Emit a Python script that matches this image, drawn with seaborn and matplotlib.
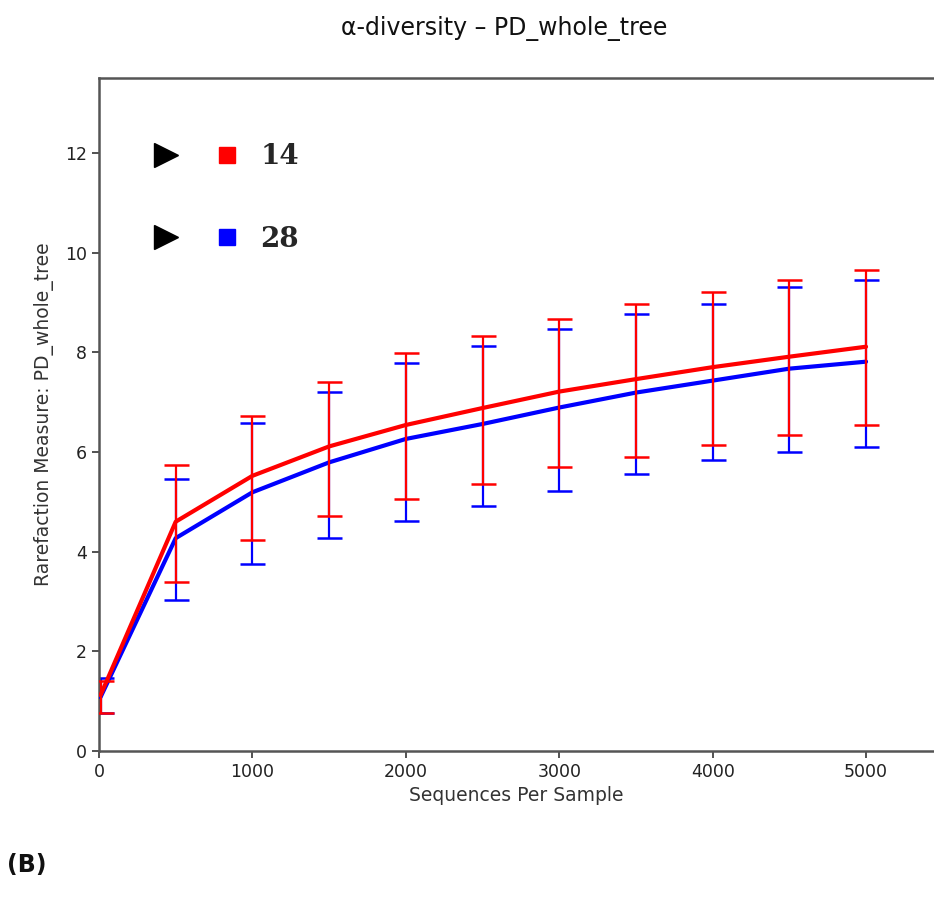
import numpy as np
import pandas as pd
import matplotlib
matplotlib.use("Agg")
import matplotlib.pyplot as plt
import seaborn as sns
from matplotlib.lines import Line2D
from matplotlib.legend_handler import HandlerTuple

# ---- data ----
seqs = [10, 500, 1000, 1500, 2000, 2500, 3000, 3500, 4000, 4500, 5000]
groups = ["14", "28"]
mean_14 = [1.12, 4.60, 5.52, 6.11, 6.54, 6.88, 7.21, 7.46, 7.70, 7.91, 8.11]
low_14 = [0.76, 3.40, 4.23, 4.72, 5.06, 5.35, 5.70, 5.89, 6.13, 6.33, 6.53]
high_14 = [1.41, 5.74, 6.72, 7.40, 7.98, 8.33, 8.67, 8.97, 9.20, 9.45, 9.64]
mean_28 = [1.08, 4.27, 5.19, 5.79, 6.26, 6.56, 6.89, 7.19, 7.43, 7.67, 7.81]
low_28 = [0.76, 3.02, 3.75, 4.28, 4.62, 4.92, 5.22, 5.55, 5.84, 5.99, 6.09]
high_28 = [1.46, 5.45, 6.58, 7.21, 7.79, 8.13, 8.47, 8.76, 8.96, 9.31, 9.45]
colors = {"14": "#ff0000", "28": "#0000ff"}

df = pd.DataFrame({
    "Sequences Per Sample": seqs * 2,
    "value": mean_14 + mean_28,
    "group": ["14"] * len(seqs) + ["28"] * len(seqs),
})

sns.set_style("ticks")
plt.rcParams["font.family"] = ["DejaVu Sans"]

fig = plt.figure(figsize=(9.34, 8.98), dpi=100)
ax = fig.add_axes([0.106, 0.1637, 0.894, 0.7494])

# blue first, red on top
for g, m, lo, hi, z in [("28", mean_28, low_28, high_28, 2), ("14", mean_14, low_14, high_14, 4)]:
    m = np.array(m); lo = np.array(lo); hi = np.array(hi)
    ax.errorbar(seqs, m, yerr=[m - lo, hi - m], fmt="none", ecolor=colors[g],
                elinewidth=1.6, capsize=9, capthick=1.8, zorder=z)

sns.lineplot(data=df[df.group == "28"], x="Sequences Per Sample", y="value",
             color=colors["28"], lw=3.0, ax=ax, zorder=3, legend=False)
sns.lineplot(data=df[df.group == "14"], x="Sequences Per Sample", y="value",
             color=colors["14"], lw=3.0, ax=ax, zorder=5, legend=False)

ax.set_xlim(0, 5443)
ax.set_ylim(0, 13.5)
ax.set_xticks([0, 1000, 2000, 3000, 4000, 5000])
ax.set_yticks([0, 2, 4, 6, 8, 10, 12])
ax.tick_params(axis="both", labelsize=12.5, colors="#333333", length=5, width=1.2,
               labelcolor="#222222")
ax.set_xlabel("Sequences Per Sample", fontsize=13.5, color="#333333", labelpad=4)
ax.set_ylabel("Rarefaction Measure: PD_whole_tree", fontsize=13.5, color="#333333", labelpad=8)
for s in ["left", "bottom", "top"]:
    ax.spines[s].set_color("#555555")
    ax.spines[s].set_linewidth(1.8)
ax.spines["right"].set_visible(False)

# legend
handles = []
for g in groups:
    tri = Line2D([], [], marker=">", color="black", markersize=17, linestyle="none")
    sq = Line2D([], [], marker="s", color=colors[g], markersize=11, linestyle="none")
    handles.append((tri, sq))
leg = ax.legend(handles, groups, handler_map={tuple: HandlerTuple(ndivide=None, pad=1.0)},
                loc="upper left", bbox_to_anchor=(0.03, 0.94), frameon=False,
                handlelength=3.4, labelspacing=2.0, handletextpad=0.6,
                prop={"family": "DejaVu Serif", "weight": "bold", "size": 20})

fig.text(0.54, 0.968, "α-diversity – PD_whole_tree", ha="center", va="center",
         fontsize=17, color="#111111")
fig.text(0.008, 0.037, "(B)", ha="left", va="center", fontsize=17,
         fontweight="bold", color="#111111")

fig.savefig("out.png", dpi=100)
